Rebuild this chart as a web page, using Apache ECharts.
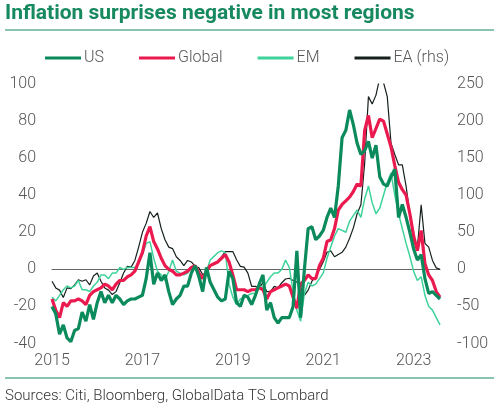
<!DOCTYPE html>
<html><head><meta charset="utf-8">
<script src="https://cdn.jsdelivr.net/npm/echarts@6/dist/echarts.min.js"></script>
<style>html,body{margin:0;padding:0;background:#fff}#c{width:500px;height:408px}</style>
</head><body><div id="c"></div>
<script>
// Monthly, Jan 2015 - Aug 2023
const months = [];
for (let y = 2015; y <= 2023; y++) for (let m = 1; m <= 12; m++) { if (y === 2023 && m > 8) break; months.push(y + '-' + String(m).padStart(2, '0')); }
const yearTicks = ['2015', '2017', '2019', '2021', '2023'];
const usVals = [-20,-24,-35,-30,-37,-39,-33,-32,-23,-28,-19,-27,-18,-12,-18,-14,-18,-14,-16,-19,-17,-16,-16,-15,-14,-5,9,-8,-2,-6,-3,-12,-19,-16,-14,-9,-9,-2,2,-4,-12,1,-7,-11,-15,-17,-16,-1,-5,-18,-20,-14,-15,-19,-14,-8,-3,-22,-18,-26,-29,-26,-26,-26,-20,10,-26,0,22,23,16,18,21,28,33,28,45,71,75,86,78,68,62,64,69,60,67,50,46,45,50,54,28,35,28,20,11,5,8,-5,-13,-12,-14,-16];
const globalVals = [-16,-22,-26,-18,-20,-17,-17,-16,-17,-19,-14,-12,-11,-10,-8,-9,-11,-8,-6,-6,-4,-3,-1,4,9,18,23,15,11,6,2,0,-1,-3,-3,-2,-1,1,2,-2,-5,-1,2,3,4,6,8,4,-3,-11,-11,-11,-12,-11,-11,-10,-11,-16,-12,-11,-10,-9,-8,-9,-15,-21,-8,-6,-3,-5,-5,2,6,15,16,22,32,35,37,39,42,46,45,75,83,71,76,81,80,73,66,56,47,43,40,30,18,10,21,3,-3,-6,-12,-15];
const emVals = [-15,-17,-14,-11,-9,-10,-9,-6,-11,-11,-12,-9,-7,-3,-3,-5,-2,-2,1,0,1,1,1,3,8,14,15,6,-1,-3,-6,-1,5,-1,-2,-3,-2,1,2,-1,-12,-1,5,7,9,10,9,-8,-15,-19,-16,-15,-14,-13,-13,-9,-10,-7,-4,-2,-2,0,5,1,-12,-22,-28,-13,-7,-9,-8,-5,-2,6,12,18,22,21,20,26,29,32,28,38,45,36,30,33,40,47,52,40,30,22,14,7,-1,-6,-4,-14,-20,-22,-26,-30];
const eaVals = [-16,-25,-28,-38,-25,-26,-21,-14,-16,-14,-21,-9,-5,-16,-25,-28,-34,-30,-18,-5,4,3,12,30,50,62,78,70,76,55,40,30,28,17,12,5,12,10,4,2,-7,-5,6,7,10,17,24,24,24,13,4,3,-5,-23,-23,-25,-18,-30,-30,-23,-25,-18,-13,-12,-15,-17,-25,-35,-28,-16,-10,0,10,23,25,17,20,23,30,42,56,75,87,143,233,223,235,258,252,233,170,155,141,141,112,75,38,30,87,35,30,12,2,0];
const leftTicks = {min: -40, max: 100, interval: 20};
const rightTicks = {min: -100, max: 250, interval: 50};

const C = {us: '#0b8a5c', global: '#ea1a4f', em: '#3ed39a', ea: '#16211e', title: '#17895f', text: '#555'};
const FONT = 'Roboto';
const chart = echarts.init(document.getElementById('c'));
chart.setOption({
  animation: false,
  textStyle: {fontFamily: FONT},
  grid: {left: 52, right: 60, top: 84, bottom: 64.5, containLabel: false},
  legend: {
    top: 45, left: 40, itemGap: 35, itemWidth: 36, itemHeight: 3, icon: 'rect',
    textStyle: {fontSize: 16, color: '#555', fontFamily: FONT, fontWeight: 300, padding: [0, 0, 0, -2]},
    data: ['US', 'Global', 'EM', 'EA (rhs)']
  },
  graphic: [
    {type: 'text', left: 5, top: 3, style: {text: 'Inflation surprises negative in most regions', font: 'bold 21px ' + FONT, fill: C.title}},
    {type: 'line', shape: {x1: 5, y1: 30, x2: 494, y2: 30}, style: {stroke: C.title, lineWidth: 1}},
    {type: 'line', shape: {x1: 5, y1: 378, x2: 494, y2: 378}, style: {stroke: C.title, lineWidth: 1}},
    {type: 'text', left: 5, top: 389, style: {text: 'Sources: Citi, Bloomberg, GlobalData TS Lombard', font: '300 15px ' + FONT, fill: '#333'}}
  ],
  xAxis: {
    type: 'category', data: months, boundaryGap: false,
    axisLine: {onZero: true, lineStyle: {color: '#666', width: 1}},
    axisTick: {show: false},
    axisLabel: {
      interval: (i, v) => yearTicks.includes(v.slice(0, 4)) && v.endsWith('-01'),
      formatter: v => v.slice(0, 4), fontSize: 16, fontWeight: 300, color: '#555', margin: 9
    },
    splitLine: {show: false}
  },
  yAxis: [
    {type: 'value', min: leftTicks.min, max: leftTicks.max, interval: leftTicks.interval,
     axisLine: {show: false}, axisTick: {show: false}, splitLine: {show: false},
     axisLabel: {fontSize: 16, fontWeight: 300, color: '#555', margin: 16}},
    {type: 'value', min: rightTicks.min, max: rightTicks.max, interval: rightTicks.interval,
     axisLine: {show: false}, axisTick: {show: false}, splitLine: {show: false},
     axisLabel: {fontSize: 16, fontWeight: 300, color: '#555', margin: 17}}
  ],
  series: [
    {name: 'EA (rhs)', type: 'line', yAxisIndex: 1, data: eaVals, showSymbol: false, lineStyle: {color: C.ea, width: 1.2}, itemStyle: {color: C.ea}, z: 1},
    {name: 'EM', type: 'line', data: emVals, showSymbol: false, lineStyle: {color: C.em, width: 1.5}, itemStyle: {color: C.em}, z: 2},
    {name: 'Global', type: 'line', data: globalVals, showSymbol: false, lineStyle: {color: C.global, width: 3.2}, itemStyle: {color: C.global}, z: 3},
    {name: 'US', type: 'line', data: usVals, showSymbol: false, lineStyle: {color: C.us, width: 3.2}, itemStyle: {color: C.us}, z: 4}
  ]
});
</script></body></html>
